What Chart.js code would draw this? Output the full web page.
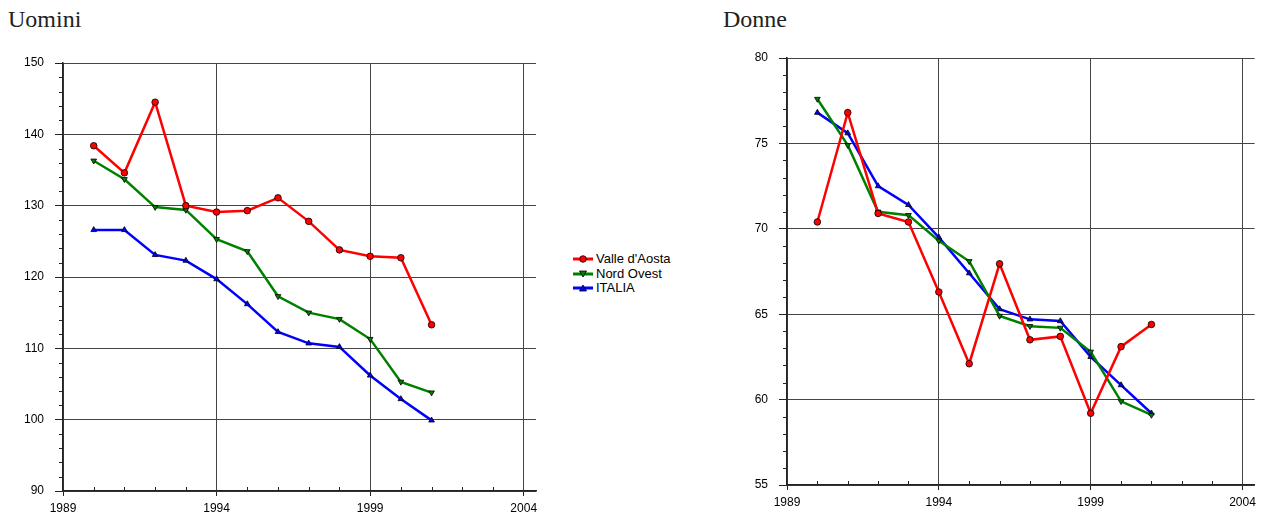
<!DOCTYPE html>
<html>
<head>
<meta charset="utf-8">
<script src="https://cdn.jsdelivr.net/npm/chart.js@4.4.0/dist/chart.umd.min.js"></script>
<style>
  body { margin: 0; background: #fff; width: 1261px; height: 513px; overflow: hidden; position: relative; }
  .titolo { position: absolute; top: 6px; font-family: "Liberation Serif", "Times New Roman", serif; font-size: 24px; color: #222; }
  #boxU { position: absolute; left: 0; top: 0; width: 545px; height: 513px; }
  #boxD { position: absolute; left: 725px; top: 0; width: 536px; height: 513px; }
  #legenda { position: absolute; left: 573px; top: 252px; font-family: "Liberation Sans", Arial, sans-serif; font-size: 13px; color: #000; }
  #legenda div { height: 14.5px; line-height: 14.5px; white-space: nowrap; }
  #legenda svg { vertical-align: -2px; margin-right: 3px; }
</style>
</head>
<body>
<div class="titolo" style="left:8px">Uomini</div>
<div class="titolo" style="left:723px">Donne</div>
<div id="boxU"><canvas id="graficoU"></canvas></div>
<div id="boxD"><canvas id="graficoD"></canvas></div>
<div id="legenda"></div>
<script>
var anni = [1990, 1991, 1992, 1993, 1994, 1995, 1996, 1997, 1998, 1999, 2000, 2001]
var xTicks = [1989, 1994, 1999, 2004]

var nomi = ["Valle d'Aosta", "Nord Ovest", "ITALIA"]
var colori = ["#ff0000", "#008000", "#0000ff"]

var uominiValle = [138.4, 134.6, 144.5, 130.0, 129.1, 129.3, 131.1, 127.8, 123.8, 122.9, 122.7, 113.3]
var uominiNord = [136.3, 133.7, 129.8, 129.4, 125.3, 123.6, 117.3, 115.0, 114.1, 111.3, 105.3, 103.8]
var uominiItalia = [126.6, 126.6, 123.1, 122.3, 119.7, 116.2, 112.3, 110.7, 110.2, 106.2, 102.9, 99.9]

var donneValle = [70.4, 76.8, 70.9, 70.4, 66.3, 62.1, 67.95, 63.5, 63.7, 59.2, 63.1, 64.4]
var donneNord = [77.6, 74.9, 71.0, 70.8, 69.3, 68.1, 64.9, 64.3, 64.2, 62.8, 59.9, 59.1]
var donneItalia = [76.8, 75.6, 72.5, 71.4, 69.5, 67.4, 65.3, 64.7, 64.6, 62.5, 60.85, 59.2]

function punti(valori) {
    var out = []
    for (var i = 0; i < anni.length; i++) {
        out.push({ x: anni[i], y: valori[i] })
    }
    return out
}

function serie(valori, i) {
    var stili = ['circle', 'triangle', 'triangle']
    return {
        label: nomi[i],
        data: punti(valori),
        borderColor: colori[i],
        backgroundColor: colori[i],
        borderWidth: 2.5,
        pointStyle: stili[i],
        rotation: i == 1 ? 180 : 0,
        pointRadius: 3.3,
        pointBorderColor: '#000',
        pointBorderWidth: 0.8,
        pointBackgroundColor: colori[i],
        tension: 0
    }
}

// tacche minori disegnate sugli assi
var tacche = {
    id: 'tacche',
    afterDraw: function (chart, args, opts) {
        var ctx = chart.ctx
        var x = chart.scales.x, y = chart.scales.y
        ctx.save()
        ctx.strokeStyle = '#222'
        ctx.lineWidth = 1
        ctx.beginPath()
        for (var a = 1990; a <= 2004; a++) {
            if ((a - 1989) % 5 == 0) continue
            var px = Math.round(x.getPixelForValue(a)) + 0.5
            ctx.moveTo(px, y.bottom)
            ctx.lineTo(px, y.bottom - 4)
        }
        for (var v = y.min; v <= y.max; v += opts.passo) {
            if (Math.abs(v % opts.major) < 0.001) continue
            var py = Math.round(y.getPixelForValue(v)) + 0.5
            ctx.moveTo(x.left, py)
            ctx.lineTo(x.left - 4, py)
        }
        ctx.stroke()
        ctx.restore()
    }
}

function opzioni(min, max, step, padTop, padBottom, padRight, passo) {
    return {
        responsive: true,
        maintainAspectRatio: false,
        animation: false,
        layout: { padding: { top: padTop, bottom: padBottom, right: padRight, left: 0 } },
        plugins: {
            legend: { display: false },
            tooltip: { enabled: false },
            tacche: { passo: passo, major: step }
        },
        scales: {
            x: {
                type: 'linear',
                min: 1989,
                max: 2004.4,
                afterBuildTicks: function (s) { s.ticks = xTicks.map(function (v) { return { value: v } }) },
                afterFit: function (s) { s.height = 22 },
                ticks: { color: '#000', font: { family: 'Liberation Sans', size: 12 }, padding: 5, maxRotation: 0,
                    callback: function (v) { return String(v) } },
                grid: { color: '#444', lineWidth: 1, tickLength: 5, tickColor: '#222' },
                border: { color: '#222', width: 1.5 }
            },
            y: {
                min: min,
                max: max,
                afterBuildTicks: function (s) {
                    var t = []
                    for (var v = min; v <= max; v += step) t.push({ value: v })
                    s.ticks = t
                },
                afterFit: function (s) { s.width = 63 },
                ticks: { color: '#000', font: { family: 'Liberation Sans', size: 12 }, padding: 11 },
                grid: { color: '#444', lineWidth: 1, tickLength: 8, tickColor: '#222' },
                border: { color: '#222', width: 1.5 }
            }
        }
    }
}

new Chart(document.getElementById('graficoU').getContext('2d'), {
    type: 'line',
    data: { datasets: [serie(uominiValle, 0), serie(uominiNord, 1), serie(uominiItalia, 2)] },
    options: opzioni(90, 150, 10, 63, 0, 9, 2),
    plugins: [tacche]
})

var optD = opzioni(55, 80, 5, 58, 6, 0, 1)
optD.scales.y.afterFit = function (s) { s.width = 62 }
new Chart(document.getElementById('graficoD').getContext('2d'), {
    type: 'line',
    data: { datasets: [serie(donneValle, 0), serie(donneNord, 1), serie(donneItalia, 2)] },
    options: optD,
    plugins: [tacche]
})

// legenda html
var icone = [
    '<circle cx="10" cy="6" r="3.3" fill="#ff0000" stroke="#000" stroke-width="0.8"/>',
    '<polygon points="6.5,3 13.5,3 10,9" fill="#008000" stroke="#000" stroke-width="0.8"/>',
    '<polygon points="6.5,9 13.5,9 10,3" fill="#0000ff" stroke="#000" stroke-width="0.8"/>'
]
var html = ''
for (var i = 0; i < nomi.length; i++) {
    html += '<div><svg width="20" height="12"><line x1="0" y1="6" x2="20" y2="6" stroke="' + colori[i] +
        '" stroke-width="3"/>' + icone[i] + '</svg>' + nomi[i] + '</div>'
}
document.getElementById('legenda').innerHTML = html
</script>
</body>
</html>
